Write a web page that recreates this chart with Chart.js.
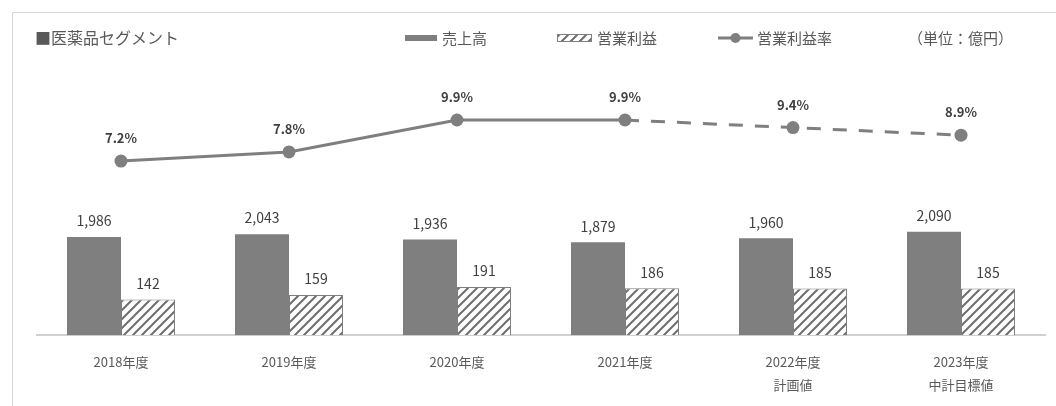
<!DOCTYPE html>
<html lang="ja">
<head>
    <meta charset="UTF-8">
    <title>医薬品セグメント</title>
    <script src="https://cdn.jsdelivr.net/npm/chart.js"></script>
    <style>
        body { margin: 0; background: #fff; }
        #wrap { position: relative; width: 1056px; height: 406px; }
    </style>
</head>
<body>
    <div id="wrap"><canvas id="segChart" width="1056" height="406"></canvas></div>

    <script>
        const categories = ['2018年度', '2019年度', '2020年度', '2021年度', ['2022年度', '計画値'], ['2023年度', '中計目標値']];
        const sales = [1986, 2043, 1936, 1879, 1960, 2090];
        const opIncome = [142, 159, 191, 186, 185, 185];
        const opMargin = [7.2, 7.8, 9.9, 9.9, 9.4, 8.9];

        const FONT = "'Noto Sans CJK JP', 'Noto Sans', sans-serif";
        const GRAY = '#7f7f7f';

        // hatch fill for operating income bars
        function makeHatch() {
            const c = document.createElement('canvas');
            c.width = 9; c.height = 9;
            const g = c.getContext('2d');
            g.fillStyle = '#fff';
            g.fillRect(0, 0, 9, 9);
            g.strokeStyle = '#6e6e6e';
            g.lineWidth = 2;
            g.beginPath();
            g.moveTo(-1, 10); g.lineTo(10, -1);
            g.moveTo(-3, 3); g.lineTo(3, -3);
            g.moveTo(6, 12); g.lineTo(12, 6);
            g.stroke();
            return g.createPattern(c, 'repeat');
        }
        const hatch = makeHatch();

        const decorPlugin = {
            id: 'decor',
            beforeDraw(chart) {
                const ctx = chart.ctx;
                ctx.save();
                ctx.strokeStyle = '#d6d6d6';
                ctx.lineWidth = 1;
                ctx.beginPath();
                ctx.moveTo(12.5, 406);
                ctx.lineTo(12.5, 12.5);
                ctx.lineTo(1056, 12.5);
                ctx.stroke();

                ctx.textBaseline = 'middle';
                ctx.fillStyle = '#595959';
                ctx.font = '16px ' + FONT;
                ctx.fillText('■医薬品セグメント', 35, 38);

                ctx.font = '15px ' + FONT;
                // 売上高
                ctx.fillStyle = GRAY;
                ctx.fillRect(405, 35, 32, 6);
                ctx.fillStyle = '#595959';
                ctx.fillText('売上高', 442, 38);
                // 営業利益
                ctx.fillStyle = hatch;
                ctx.fillRect(557, 34, 35, 8);
                ctx.strokeStyle = GRAY;
                ctx.strokeRect(557.5, 34.5, 34, 7);
                ctx.fillStyle = '#595959';
                ctx.fillText('営業利益', 597, 38);
                // 営業利益率
                ctx.strokeStyle = GRAY;
                ctx.lineWidth = 3;
                ctx.beginPath();
                ctx.moveTo(718, 38); ctx.lineTo(753, 38);
                ctx.stroke();
                ctx.fillStyle = GRAY;
                ctx.beginPath();
                ctx.arc(735.5, 38, 5, 0, Math.PI * 2);
                ctx.fill();
                ctx.fillStyle = '#595959';
                ctx.fillText('営業利益率', 757, 38);

                ctx.fillText('（単位：億円）', 908, 38);
                ctx.restore();
            },
            afterDatasetsDraw(chart) {
                const ctx = chart.ctx;
                ctx.save();
                ctx.textAlign = 'center';
                ctx.textBaseline = 'middle';
                ctx.fillStyle = '#404040';
                chart.data.datasets.forEach((ds, di) => {
                    const meta = chart.getDatasetMeta(di);
                    meta.data.forEach((el, i) => {
                        const v = ds.data[i];
                        if (ds.type === 'line') {
                            ctx.font = 'bold 13px ' + FONT;
                            ctx.fillText(v.toFixed(1) + '%', el.x, el.y - 23);
                        } else {
                            ctx.font = '14px ' + FONT;
                            ctx.fillText(v.toLocaleString('en-US'), el.x, el.y - 16);
                        }
                    });
                });
                ctx.restore();
            }
        };

        new Chart(document.getElementById('segChart'), {
            data: {
                labels: categories,
                datasets: [
                    {
                        type: 'line',
                        label: '営業利益率',
                        data: opMargin,
                        yAxisID: 'yr',
                        order: 0,
                        borderColor: GRAY,
                        backgroundColor: GRAY,
                        borderWidth: 3,
                        pointRadius: 6.5,
                        pointBackgroundColor: GRAY,
                        pointBorderWidth: 0,
                        tension: 0,
                        segment: {
                            borderDash: ctx => ctx.p0DataIndex >= 3 ? [14, 12] : undefined
                        }
                    },
                    {
                        type: 'bar',
                        label: '売上高',
                        data: sales,
                        yAxisID: 'ys',
                        order: 1,
                        backgroundColor: GRAY,
                        borderWidth: 0
                    },
                    {
                        type: 'bar',
                        label: '営業利益',
                        data: opIncome,
                        yAxisID: 'yi',
                        order: 1,
                        backgroundColor: hatch,
                        borderColor: GRAY,
                        borderWidth: 1
                    }
                ]
            },
            options: {
                responsive: false,
                animation: false,
                events: [],
                datasets: {
                    bar: { categoryPercentage: 0.643, barPercentage: 1 }
                },
                layout: { padding: { left: 37, right: 11, top: 80, bottom: 2 } },
                plugins: {
                    legend: { display: false },
                    title: { display: false },
                    tooltip: { enabled: false }
                },
                scales: {
                    x: {
                        grid: { display: false },
                        border: { display: true, color: '#d0d0d0', width: 2 },
                        ticks: {
                            color: '#595959',
                            font: { family: FONT, size: 13, lineHeight: 1.8 },
                            padding: 7,
                            maxRotation: 0
                        }
                    },
                    ys: { display: false, min: 0, max: 5160 },
                    yi: { display: false, min: 0, max: 1012 },
                    yr: { display: false, min: -4.25, max: 12.53 }
                }
            },
            plugins: [decorPlugin]
        });
    </script>
</body>
</html>
